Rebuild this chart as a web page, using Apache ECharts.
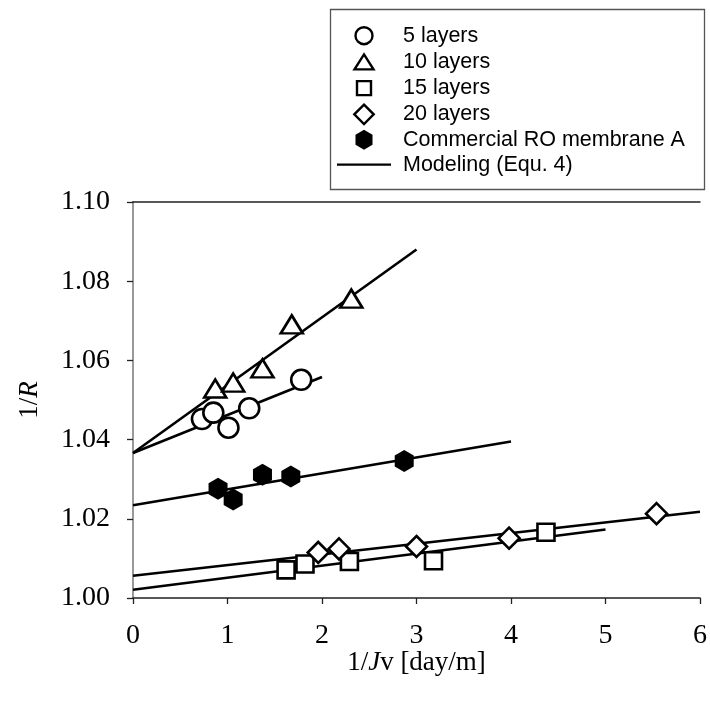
<!DOCTYPE html>
<html>
<head>
<meta charset="utf-8">
<script src="https://cdn.jsdelivr.net/npm/echarts@6/dist/echarts.min.js"></script>
<style>
  html, body { margin: 0; padding: 0; background: #fff; }
  #chart { width: 710px; height: 703px; }
</style>
</head>
<body>
<div id="chart"></div>
<script>
// measured points (1/Jv, 1/R)
const layers5X = [0.73, 0.85, 1.01, 1.23, 1.78];
const layers5Y = [1.0452, 1.0468, 1.0430, 1.0479, 1.0551];
const layers10X = [0.87, 1.06, 1.37, 1.68, 2.31];
const layers10Y = [1.0529, 1.0544, 1.0580, 1.0691, 1.0756];
const layers15X = [1.62, 1.82, 2.29, 3.18, 4.37];
const layers15Y = [1.0071, 1.0086, 1.0092, 1.0094, 1.0166];
const layers20X = [1.96, 2.18, 3.00, 3.98, 5.54];
const layers20Y = [1.0115, 1.0124, 1.0130, 1.0151, 1.0213];
const commercialX = [0.90, 1.06, 1.37, 1.67, 2.87];
const commercialY = [1.0276, 1.0249, 1.0311, 1.0307, 1.0346];

// modeling lines (Equ. 4), end points
const fit5X = [0, 2.0];
const fit5Y = [1.0366, 1.0558];
const fit10X = [0, 3.0];
const fit10Y = [1.0366, 1.0880];
const fitCommercialX = [0, 4.0];
const fitCommercialY = [1.0234, 1.0395];
const fit15X = [0, 5.0];
const fit15Y = [1.0021, 1.0173];
const fit20X = [0, 6.0];
const fit20Y = [1.0056, 1.0218];

const xTicks = [0, 1, 2, 3, 4, 5, 6];
const yTicks = [1.0, 1.02, 1.04, 1.06, 1.08, 1.1];

const modelName = "Modeling (Equ. 4)";

// plot symbols
const circlePath = "path://M10,0 A10,10 0 1,1 9.99,0 Z";
const trianglePath = "path://M10,0 L20,17 L0,17 Z";
const squarePath = "path://M0,0 L16,0 L16,16 L0,16 Z";
const diamondPath = "path://M10,0 L20,10 L10,20 L0,10 Z";
const hexPath = "path://M8.66,0 L17.32,5 L17.32,15 L8.66,20 L0,15 L0,5 Z";

// legend icons, padded to a 21px tall box
const pad = "M9,0 L9,0 M9,21 L9,21 ";
const legCircle = "path://" + pad + "M9,2 A8.5,8.5 0 1,1 8.99,2 Z";
const legTriangle = "path://" + pad + "M9.5,3 L19,18 L0,18 Z";
const legSquare = "path://" + pad + "M2,3.5 L16,3.5 L16,17.5 L2,17.5 Z";
const legDiamond = "path://" + pad + "M9,0.8 L18.7,10.5 L9,20.2 L-0.7,10.5 Z";
const legHex = "path://" + pad + "M9,0.5 L17.5,5.5 L17.5,15.5 L9,20.5 L0.5,15.5 L0.5,5.5 Z";
const legLine = "path://M-7,0 L-7,0 M61,21 L61,21 M0,9.3 L54,9.3 L54,11.7 L0,11.7 Z";

function zip(xs, ys) {
  return xs.map((x, i) => [x, ys[i]]);
}

const hollow = { color: "#fff", borderColor: "#000", borderWidth: 2.6, opacity: 1 };
const serif = "Liberation Serif";

const chart = echarts.init(document.getElementById("chart"));

const option = {
  animation: false,
  backgroundColor: "#fff",
  grid: { left: 133, right: 7, top: 202, bottom: 105, containLabel: false },
  graphic: [
    {
      type: "rect",
      left: 328,
      top: 7,
      shape: { width: 374, height: 180 },
      style: { fill: "none", stroke: "#555", lineWidth: 1.3 },
    },
  ],
  legend: {
    orient: "vertical",
    left: 330,
    top: 24,
    padding: 0,
    itemWidth: 68,
    itemHeight: 21,
    itemGap: 2.8,
    selectedMode: false,
    symbolKeepAspect: true,
    textStyle: { fontFamily: "Liberation Sans", fontSize: 21.5, color: "#000" },
    itemStyle: { borderWidth: 2.4, opacity: 1 },
    data: [
      { name: "5 layers", icon: legCircle },
      { name: "10 layers", icon: legTriangle },
      { name: "15 layers", icon: legSquare },
      { name: "20 layers", icon: legDiamond },
      { name: "Commercial RO membrane A", icon: legHex, itemStyle: { borderWidth: 0 } },
      { name: modelName, icon: legLine, itemStyle: { color: "#000", borderWidth: 0 } },
    ],
  },
  xAxis: [
    {
      type: "value",
      min: 0,
      max: 6,
      interval: 1,
      name: "{a|1/}{i|J}{a|v [day/m]}",
      nameLocation: "middle",
      nameGap: 51,
      nameMoveOverlap: false,
      nameTextStyle: {
        rich: {
          a: { fontFamily: serif, fontSize: 27, color: "#000" },
          i: { fontFamily: serif, fontSize: 27, fontStyle: "italic", color: "#000" },
        },
      },
      axisLine: { lineStyle: { color: "#222", width: 1.5 } },
      axisTick: { inside: false, length: 6, lineStyle: { color: "#222", width: 1.3 } },
      axisLabel: {
        margin: 24,
        fontFamily: serif,
        fontSize: 28,
        color: "#000",
        formatter: (v) => (xTicks.includes(v) ? String(v) : ""),
      },
      splitLine: { show: false },
    },
    {
      type: "value",
      position: "top",
      min: 0,
      max: 6,
      axisLine: { show: true, lineStyle: { color: "#222", width: 1.5 } },
      axisTick: { show: false },
      axisLabel: { show: false },
      splitLine: { show: false },
    },
  ],
  yAxis: [
    {
      type: "value",
      min: 1.0,
      max: 1.1,
      interval: 0.02,
      name: "{a|1/}{i|R}",
      nameLocation: "middle",
      nameGap: 90,
      nameRotate: 90,
      nameTextStyle: {
        rich: {
          a: { fontFamily: serif, fontSize: 27, color: "#000" },
          i: { fontFamily: serif, fontSize: 27, fontStyle: "italic", color: "#000" },
        },
      },
      axisLine: { show: true, lineStyle: { color: "#222", width: 1.5 } },
      axisTick: { inside: false, length: 6, lineStyle: { color: "#222", width: 1.3 } },
      axisLabel: {
        margin: 23,
        fontFamily: serif,
        fontSize: 28,
        color: "#000",
        formatter: (v) => {
          const t = yTicks.find((y) => Math.abs(y - v) < 1e-6);
          return t === undefined ? "" : t.toFixed(2);
        },
      },
      splitLine: { show: false },
    },
    {
      type: "value",
      position: "right",
      min: 1.0,
      max: 1.1,
      axisLine: { show: true, lineStyle: { color: "#999", width: 2 } },
      axisTick: { show: false },
      axisLabel: { show: false },
      splitLine: { show: false },
    },
  ],
  series: [
    {
      name: modelName,
      type: "line",
      data: zip(fit10X, fit10Y),
      symbol: "none",
      lineStyle: { color: "#000", width: 2.6 },
      z: 1,
    },
    {
      name: modelName,
      type: "line",
      data: zip(fit5X, fit5Y),
      symbol: "none",
      lineStyle: { color: "#000", width: 2.6 },
      z: 1,
    },
    {
      name: modelName,
      type: "line",
      data: zip(fitCommercialX, fitCommercialY),
      symbol: "none",
      lineStyle: { color: "#000", width: 2.6 },
      z: 1,
    },
    {
      name: modelName,
      type: "line",
      data: zip(fit15X, fit15Y),
      symbol: "none",
      lineStyle: { color: "#000", width: 2.6 },
      z: 1,
    },
    {
      name: modelName,
      type: "line",
      data: zip(fit20X, fit20Y),
      symbol: "none",
      lineStyle: { color: "#000", width: 2.6 },
      z: 1,
    },
    {
      name: "5 layers",
      type: "scatter",
      data: zip(layers5X, layers5Y),
      symbol: circlePath,
      symbolSize: 20,
      itemStyle: hollow,
      z: 3,
    },
    {
      name: "10 layers",
      type: "scatter",
      data: zip(layers10X, layers10Y),
      symbol: trianglePath,
      symbolSize: [22, 18],
      itemStyle: hollow,
      z: 3,
    },
    {
      name: "15 layers",
      type: "scatter",
      data: zip(layers15X, layers15Y),
      symbol: squarePath,
      symbolSize: 17,
      itemStyle: hollow,
      z: 3,
    },
    {
      name: "20 layers",
      type: "scatter",
      data: zip(layers20X, layers20Y),
      symbol: diamondPath,
      symbolSize: 21,
      itemStyle: hollow,
      z: 3,
    },
    {
      name: "Commercial RO membrane A",
      type: "scatter",
      data: zip(commercialX, commercialY),
      symbol: hexPath,
      symbolSize: [19, 22],
      itemStyle: { color: "#000", opacity: 1 },
      z: 3,
    },
  ],
};

chart.setOption(option);
</script>
</body>
</html>
